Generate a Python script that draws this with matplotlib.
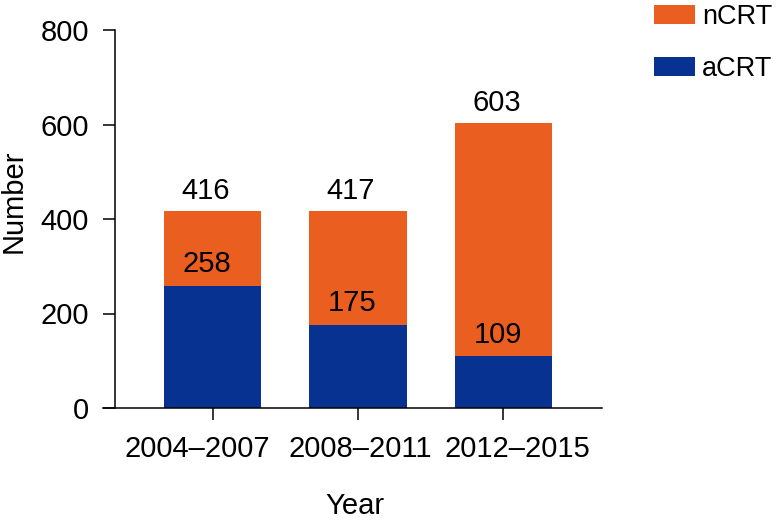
import matplotlib
matplotlib.use("Agg")
import matplotlib.pyplot as plt
import matplotlib.transforms as mtransforms
import numpy as np

categories = ["2004\u20132007", "2008\u20132011", "2012\u20132015"]
acrt = [258, 175, 109]
totals = [416, 417, 603]
ncrt = [t - a for t, a in zip(totals, acrt)]
yticks = [0, 200, 400, 600, 800]

ORANGE = "#EA5E1F"
BLUE = "#073291"

plt.rcParams['font.family'] = ['Liberation Sans', 'DejaVu Sans']
FS = 21
LFS = 19.5
LPX = LFS * 100 / 72

W, H = 776, 520
fig = plt.figure(figsize=(W / 100, H / 100), dpi=100)
ax = fig.add_axes([103 / W, 1 - 408 / H, (602 - 103) / W, (408 - 30) / H])

x = np.arange(len(categories))
bw = 0.667
ax.bar(x, acrt, width=bw, color=BLUE, label="aCRT", zorder=2)
ax.bar(x, ncrt, width=bw, bottom=acrt, color=ORANGE, label="nCRT", zorder=2)

for xi, a, t in zip(x, acrt, totals):
    ax.annotate(str(t), (xi, t), xytext=(-5, 8.6), textcoords="offset points",
                ha="center", va="baseline", fontsize=FS)
    ax.annotate(str(a), (xi, a), xytext=(-4, 10), textcoords="offset points",
                ha="center", va="baseline", fontsize=FS)

ax.set_xlim(-0.7526, 2.677)
ax.set_ylim(0, 800)
ax.set_yticks(yticks)
ax.set_xticks(x)
ax.set_xticklabels(categories)

for s in ["top", "right"]:
    ax.spines[s].set_visible(False)
ax.spines["left"].set_position(("axes", 12 / 499))
ax.spines["left"].set_bounds(0, 800)
for s in ["left", "bottom"]:
    ax.spines[s].set_linewidth(1.1)
ax.tick_params(axis="both", labelsize=FS, length=8.6, width=1.1, pad=10)
ax.tick_params(axis="x", pad=11)

# the reference spreads the category labels slightly wider than the ticks
label_shift_px = [-15, 2, 14]
for lab, dx in zip(ax.get_xticklabels(), label_shift_px):
    lab.set_transform(lab.get_transform() +
                      mtransforms.ScaledTranslation(dx / 100, 0, fig.dpi_scale_trans))

fig.text(14 / W, 1 - 201.5 / H, "Number", rotation=90, ha="center", va="center", fontsize=FS)
fig.text(355 / W, 1 - 506 / H, "Year", ha="center", va="center", fontsize=FS)

handles, labels = ax.get_legend_handles_labels()
leg = fig.legend(handles[::-1], labels[::-1], loc="upper left",
                 bbox_to_anchor=(654 / W, 1 - 4 / H), frameon=False, fontsize=LFS,
                 handlelength=41 / LPX, handleheight=19 / LPX, handletextpad=0.27,
                 labelspacing=0.95, borderpad=0, borderaxespad=0)

fig.savefig("out.png", dpi=100)
